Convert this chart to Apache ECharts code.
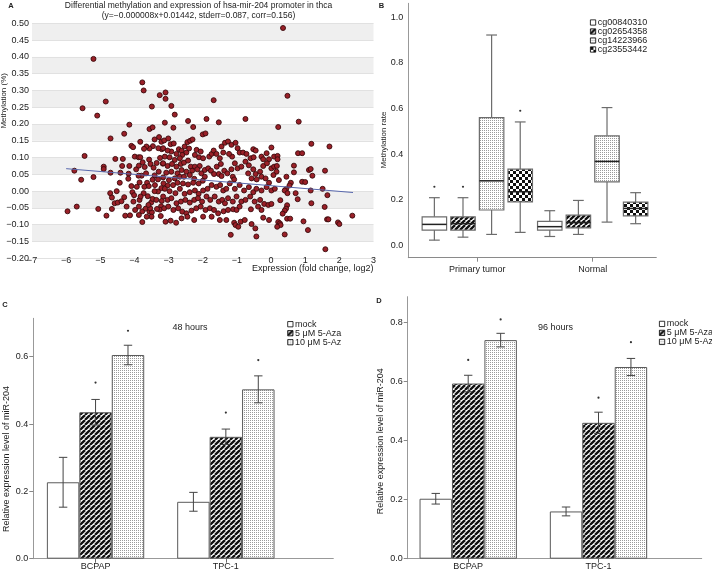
<!DOCTYPE html>
<html>
<head>
<meta charset="utf-8">
<script src="https://cdn.jsdelivr.net/npm/echarts@6/dist/echarts.min.js"></script>
<style>
html, body { margin: 0; padding: 0; background: #fff; }
#main { width: 712px; height: 574px; }
</style>
</head>
<body>
<div id="main"></div>
<script>
// ---- panel A : methylation vs expression ----
var scatterPoints = [
  [-5.20,0.394],[-3.77,0.324],[-3.73,0.300],[-5.52,0.247],[-4.84,0.267],[-5.09,0.225],[-3.26,0.286],[-3.49,0.252],
  [-4.15,0.198],[-4.70,0.157],[-4.30,0.171],[-5.46,0.105],[-5.76,0.061],[-5.56,0.034],[-5.96,-0.060],[-5.69,-0.046],
  [-5.20,0.042],[-5.06,-0.053],[-4.82,-0.073],[-4.90,0.073],[-4.90,0.066],[-4.70,0.055],[-4.56,0.096],[-4.41,0.055],
  [-4.43,0.025],[-4.71,-0.006],[-4.66,-0.019],[-4.52,0.000],[-4.58,-0.036],[-4.49,-0.034],[-4.38,-0.030],[-4.66,-0.053],
  [-4.34,0.096],[-4.36,0.075],[-4.15,0.075],[-4.17,0.052],[-4.09,0.135],[-4.04,0.131],[-3.99,0.103],[-3.88,0.101],
  [-4.30,-0.018],[-4.23,-0.046],[-4.27,-0.073],[-4.13,-0.072],[-4.06,-0.003],[-4.01,-0.012],[-3.93,0.013],[-3.85,0.026],
  [-3.79,0.046],[-3.88,0.046],[-3.95,0.065],[-3.87,0.076],[-3.76,0.086],[-3.70,0.072],[-3.66,0.053],[-3.57,0.094],
  [-3.53,0.081],[-3.44,0.070],[-3.41,0.047],[-3.47,0.034],[-3.63,0.025],[-3.58,0.015],[-3.40,0.018],[-3.31,0.035],
  [-3.29,0.058],[-3.35,0.084],[-3.25,0.099],[-3.17,0.082],[-3.20,0.125],[-3.30,0.128],[-3.46,0.134],[-3.56,0.127],
  [-3.65,0.133],[-3.83,0.147],[-3.72,0.126],[-3.83,0.101],[-4.03,-0.031],[-3.85,-0.026],[-3.87,-0.046],[-3.98,-0.056],
  [-3.77,-0.060],[-3.67,-0.052],[-3.51,-0.034],[-3.61,-0.015],[-3.73,-0.006],[-3.82,-0.016],[-3.56,-0.061],[-3.49,-0.063],
  [-3.54,-0.051],[-3.59,-0.041],[-3.47,-0.023],[-3.36,-0.026],[-3.22,-0.045],[-3.26,-0.055],[-3.34,-0.053],[-3.20,-0.029],
  [-3.21,0.009],[-3.31,-0.001],[-3.41,0.000],[-3.77,-0.092],[-3.56,0.185],[-3.47,0.190],[-3.28,0.161],[-3.41,0.154],
  [-3.21,0.147],[-3.50,-0.076],[-3.64,-0.076],[-3.23,-0.074],[-3.87,-0.071],[-3.71,0.013],[-4.09,0.015],[-4.18,0.037],
  [-3.09,0.294],[-3.09,0.275],[-2.92,0.254],[-2.82,0.228],[-1.68,0.271],[-0.75,0.215],[-1.89,0.215],[-1.53,0.205],
  [-2.43,0.209],[-2.28,0.191],[-2.86,0.189],[-3.11,0.204],[-2.00,0.169],[-1.92,0.172],
  [-3.13,0.151],[-3.01,0.157],[-3.16,0.128],[-2.94,0.140],[-2.85,0.142],[-2.70,0.125],[-2.62,0.120],[-2.53,0.133],
  [-2.45,0.146],[-2.37,0.150],[-2.30,0.154],[-2.40,0.127],[-2.48,0.115],[-2.60,0.108],[-2.77,0.111],[-2.92,0.118],
  [-3.03,0.121],[-3.11,0.103],[-2.97,0.101],[-2.82,0.093],[-2.67,0.098],[-2.18,0.123],[-2.06,0.118],[-2.11,0.101],
  [-2.23,0.108],[-1.99,0.098],[-1.81,0.103],[-1.74,0.111],[-1.68,0.121],[-1.60,0.111],[-1.45,0.133],[-1.35,0.144],
  [-1.26,0.148],[-1.16,0.138],[-1.04,0.144],[-0.98,0.128],[-0.92,0.115],[-0.82,0.115],[-0.72,0.111],[-1.14,0.103],
  [-1.23,0.111],[-1.40,0.115],[-1.50,0.098],[-0.52,0.125],[-0.45,0.121],[-0.13,0.113],[0.01,0.130],[0.09,0.103],
  [-0.28,0.103],[-0.60,0.098],[-0.51,0.101],[-0.23,0.095],[-0.06,0.095],
  [-3.16,0.083],[-3.03,0.075],[-2.90,0.081],[-2.77,0.073],[-2.64,0.081],[-2.55,0.085],[-2.43,0.091],[-2.35,0.073],
  [-2.23,0.073],[-2.09,0.075],[-2.16,0.065],[-2.31,0.061],[-2.48,0.058],[-2.62,0.063],[-2.74,0.053],[-2.92,0.058],
  [-3.07,0.055],[-3.16,0.041],[-2.99,0.033],[-2.82,0.038],[-2.67,0.043],[-2.55,0.043],[-2.38,0.048],[-2.25,0.037],
  [-2.04,0.053],[-1.94,0.063],[-1.84,0.068],[-1.76,0.061],[-1.67,0.051],[-1.59,0.073],[-1.47,0.081],[-1.37,0.061],
  [-1.28,0.053],[-1.16,0.065],[-1.06,0.083],[-0.98,0.068],[-0.87,0.073],[-0.75,0.088],[-0.65,0.077],[-0.52,0.065],
  [-0.45,0.051],[-0.32,0.058],[-0.23,0.075],[-0.12,0.083],[0.01,0.068],[0.09,0.073],[0.16,0.058],[-0.67,0.053],
  [-0.57,0.038],[-0.42,0.035],[-0.28,0.043],[-0.16,0.038],[-0.06,0.025],[0.07,0.048],[-1.12,0.043],[-1.08,0.035],
  [-1.53,0.051],[-1.45,0.045],[-1.94,0.043],[-2.00,0.031],[-2.12,0.023],[-2.28,0.025],[-2.43,0.020],[-2.58,0.023],
  [-2.74,0.025],[-2.87,0.018],[-3.03,0.017],[-3.15,0.023],
  [-3.11,0.007],[-2.97,0.000],[-2.80,-0.006],[-2.67,0.007],[-2.53,-0.008],[-2.38,-0.003],[-2.23,0.002],[-2.12,-0.008],
  [-1.99,0.002],[-1.86,0.007],[-1.74,0.018],[-1.60,0.013],[-1.49,0.018],[-1.40,0.002],[-1.31,0.007],[-1.21,0.023],
  [-1.06,0.007],[-0.92,0.018],[-0.79,0.002],[-0.65,0.012],[-0.52,-0.003],[-0.43,0.007],[-0.28,0.002],[-0.13,0.012],
  [0.01,0.002],[0.11,0.007],[-3.16,-0.016],[-3.03,-0.026],[-2.92,-0.021],[-2.77,-0.036],[-2.64,-0.031],[-2.51,-0.026],
  [-2.38,-0.034],[-2.25,-0.026],[-2.14,-0.021],[-2.02,-0.031],[-1.89,-0.016],[-1.78,-0.026],[-1.65,-0.016],[-1.53,-0.031],
  [-1.43,-0.026],[-1.35,-0.036],[-1.26,-0.021],[-1.12,-0.031],[-1.01,-0.016],[-0.87,-0.031],[-0.75,-0.026],[-0.61,-0.016],
  [-0.48,-0.031],[-0.32,-0.026],[-0.20,-0.038],[-0.08,-0.041],[0.01,-0.038],[-3.13,-0.051],[-3.01,-0.046],[-2.86,-0.056],
  [-2.72,-0.051],[-2.60,-0.061],[-2.48,-0.066],[-2.33,-0.058],[-2.19,-0.051],[-2.06,-0.046],[-1.92,-0.056],[-1.79,-0.051],
  [-1.67,-0.056],[-1.55,-0.066],[-1.39,-0.060],[-1.26,-0.056],[-1.11,-0.054],[-1.01,-0.056],[-0.92,-0.046],[-0.59,-0.054],
  [-0.38,-0.046],[-0.28,-0.056],
  [-3.09,-0.091],[-2.94,-0.088],[-2.78,-0.094],[-2.62,-0.081],[-2.45,-0.076],[-2.25,-0.086],[-1.99,-0.076],[-1.74,-0.076],
  [-1.50,-0.086],[-1.31,-0.086],[-1.08,-0.094],[-1.04,-0.101],[-0.96,-0.106],[-0.89,-0.091],[-0.77,-0.086],[-0.57,-0.098],
  [-0.46,-0.111],[-0.23,-0.079],[-0.06,-0.086],[-1.18,-0.130],[-0.43,-0.135],
  [0.35,0.486],[0.48,0.284],[0.81,0.207],[0.21,0.191],[1.18,0.141],[1.71,0.133],[0.19,0.105],[0.23,0.033],
  [0.79,0.113],[0.91,0.113],[0.67,0.076],[0.67,0.056],[0.45,0.043],[1.11,0.063],[1.16,0.066],[1.21,0.046],
  [1.58,0.061],[0.91,0.028],[1.00,0.027],[0.58,0.025],[0.54,0.017],[0.44,0.006],[0.40,0.002],[0.48,-0.006],
  [1.16,0.002],[1.51,0.007],[1.65,-0.012],[0.72,-0.006],[0.78,-0.024],[0.27,-0.027],[0.47,-0.042],[0.44,-0.052],
  [0.40,-0.058],[1.18,-0.036],[1.57,-0.047],[0.34,-0.067],[0.47,-0.082],[0.56,-0.082],[1.64,-0.084],[1.68,-0.084],
  [0.95,-0.090],[0.21,-0.092],[0.26,-0.096],[0.28,-0.101],[0.18,-0.106],[1.96,-0.093],[2.00,-0.098],[2.38,-0.073],
  [1.08,-0.116],[0.40,-0.129],[1.59,-0.173],[0.19,0.095],[0.17,0.075]
];
var regLineX = [-6.0, 2.4];
var regLineY = [0.067, -0.004];

// ---- panel B : boxplots, [min, Q1, median, Q3, max] ----
var boxGroups = ['Primary tumor', 'Normal'];
var probes = ['cg00840310', 'cg02654358', 'cg14223966', 'cg23553442'];
var boxTumor = [
  [0.023, 0.067, 0.092, 0.125, 0.209],
  [0.036, 0.067, 0.095, 0.125, 0.209],
  [0.048, 0.155, 0.283, 0.560, 0.922],
  [0.057, 0.191, 0.235, 0.334, 0.541]
];
var boxNormal = [
  [0.039, 0.067, 0.082, 0.105, 0.152],
  [0.048, 0.077, 0.100, 0.133, 0.197],
  [0.102, 0.278, 0.368, 0.480, 0.604],
  [0.095, 0.129, 0.162, 0.190, 0.231]
];
var boxOutliers = [[0, 0, 0.257], [0, 1, 0.257], [0, 3, 0.590]];

// ---- panels C / D : miR-204 expression ----
var cellLines = ['BCPAP', 'TPC-1'];
var treatments = ['mock', '5 μM 5-Aza', '10 μM 5-Az'];
var mean48 = [[0.227, 0.169], [0.435, 0.362], [0.605, 0.503]];
var err48 = [[0.074, 0.028], [0.038, 0.023], [0.029, 0.040]];
var stars48 = [[0, 1, 0.523], [0, 2, 0.677], [1, 1, 0.434], [1, 2, 0.590]];
var mean96 = [[0.203, 0.160], [0.593, 0.460], [0.740, 0.649]];
var err96 = [[0.018, 0.015], [0.028, 0.036], [0.023, 0.029]];
var stars96 = [[0, 1, 0.673], [0, 2, 0.810], [1, 1, 0.545], [1, 2, 0.733]];

var FONT = 'Liberation Sans, Arial, sans-serif';
var TXT = '#222';
var BAR_FRAC = 0.249;

function makePattern(kind) {
    var c = document.createElement('canvas'), ctx;
    if (kind === 'hatch') {
        c.width = c.height = 5;
        ctx = c.getContext('2d');
        ctx.fillStyle = '#fff'; ctx.fillRect(0, 0, 5, 5);
        ctx.strokeStyle = '#111'; ctx.lineWidth = 2.3;
        [-5, 0, 5].forEach(function (o) {
            ctx.beginPath(); ctx.moveTo(o, 5); ctx.lineTo(o + 5, 0); ctx.stroke();
        });
    } else if (kind === 'dots') {
        c.width = c.height = 2;
        ctx = c.getContext('2d');
        ctx.fillStyle = '#fff'; ctx.fillRect(0, 0, 2, 2);
        ctx.fillStyle = '#9a9a9a'; ctx.fillRect(0, 0, 1, 1);
    } else if (kind === 'checker') {
        c.width = c.height = 6;
        ctx = c.getContext('2d');
        ctx.fillStyle = '#fff'; ctx.fillRect(0, 0, 6, 6);
        ctx.fillStyle = '#111'; ctx.fillRect(0, 0, 3, 3); ctx.fillRect(3, 3, 3, 3);
    } else {
        return '#ffffff';
    }
    return { image: c, repeat: 'repeat' };
}
var fills = [makePattern('plain'), makePattern('hatch'), makePattern('dots'), makePattern('checker')];
var barFills = [fills[0], fills[1], fills[2]];

function minus(s) { return String(s).replace('-', '\u2212'); }

function boxRenderer(k) {
    return function (params, api) {
        var cat = api.value(0);
        var band = api.size([1, 0])[0];
        var w = band * 0.212;
        var cx = api.coord([cat, 0])[0] + (k - 1.5) * band * 0.248;
        var y = function (i) { return api.coord([cat, api.value(i)])[1]; };
        var yMin = y(1), yQ1 = y(2), yMed = y(3), yQ3 = y(4), yMax = y(5);
        var cap = w * 0.22;
        var ls = { stroke: '#6c6c6c', lineWidth: 1.2 };
        return {
            type: 'group',
            children: [
                { type: 'line', shape: { x1: cx, y1: yMax, x2: cx, y2: yQ3 }, style: ls },
                { type: 'line', shape: { x1: cx, y1: yQ1, x2: cx, y2: yMin }, style: ls },
                { type: 'line', shape: { x1: cx - cap, y1: yMax, x2: cx + cap, y2: yMax }, style: ls },
                { type: 'line', shape: { x1: cx - cap, y1: yMin, x2: cx + cap, y2: yMin }, style: ls },
                { type: 'rect', shape: { x: cx - w / 2, y: yQ3, width: w, height: yQ1 - yQ3 },
                  style: { fill: fills[k], stroke: '#6c6c6c', lineWidth: 1.2 } },
                { type: 'line', shape: { x1: cx - w / 2, y1: yMed, x2: cx + w / 2, y2: yMed },
                  style: { stroke: '#222', lineWidth: 1.5 } }
            ]
        };
    };
}

function outlierRenderer(params, api) {
    var cat = api.value(0), k = api.value(1);
    var band = api.size([1, 0])[0];
    var p = api.coord([cat, api.value(2)]);
    return { type: 'circle', shape: { cx: p[0] + (k - 1.5) * band * 0.248, cy: p[1], r: 1.1 }, style: { fill: '#333' } };
}

function barX(api, cat, k) {
    var band = api.size([1, 0])[0];
    return api.coord([cat, 0])[0] + (k - 1) * band * BAR_FRAC;
}

function errRenderer(params, api) {
    var cat = api.value(0), k = api.value(1);
    var x = barX(api, cat, k);
    var yl = api.coord([cat, api.value(2)])[1], yh = api.coord([cat, api.value(3)])[1];
    var st = { stroke: '#444', lineWidth: 1 };
    return {
        type: 'group',
        children: [
            { type: 'line', shape: { x1: x, y1: yl, x2: x, y2: yh }, style: st },
            { type: 'line', shape: { x1: x - 4.2, y1: yl, x2: x + 4.2, y2: yl }, style: st },
            { type: 'line', shape: { x1: x - 4.2, y1: yh, x2: x + 4.2, y2: yh }, style: st }
        ]
    };
}

function starRenderer(params, api) {
    var cat = api.value(0), k = api.value(1);
    var y = api.coord([cat, api.value(2)])[1];
    return { type: 'circle', shape: { cx: barX(api, cat, k), cy: y, r: 1.1 }, style: { fill: '#333' } };
}

function errData(mean, err) {
    var out = [];
    mean.forEach(function (row, k) {
        row.forEach(function (m, c) { out.push([c, k, m - err[k][c], m + err[k][c]]); });
    });
    return out;
}

var labelStyle = { fontSize: 9, color: TXT, fontFamily: FONT };

function frameX(gi, color) {
    return {
        type: 'value', gridIndex: gi, min: 0, max: 1,
        axisLine: { show: true, onZero: false, lineStyle: { color: color, width: 1 } },
        axisTick: { show: false }, axisLabel: { show: false }, splitLine: { show: false }
    };
}
function dataX(gi, cats, tickColor, margin) {
    return {
        type: 'category', gridIndex: gi, data: cats,
        axisLine: { show: false, onZero: false },
        axisTick: { show: true, alignWithLabel: true, length: 4, lineStyle: { color: tickColor } },
        axisLabel: Object.assign({ margin: margin }, labelStyle),
        splitLine: { show: false }
    };
}
function hiddenY(gi, mn, mx) {
    return { type: 'value', gridIndex: gi, min: mn, max: mx, show: false, splitLine: { show: false } };
}
function frameY(gi, mn, mx, ticks, name, gap, pad, nameSize, withTicks) {
    return {
        type: 'value', gridIndex: gi, min: mn, max: mx,
        axisLine: { show: true, onZero: false, lineStyle: { color: '#999', width: 1 } },
        axisTick: { show: withTicks, length: 4, customValues: ticks, lineStyle: { color: '#888' } },
        axisLabel: Object.assign({ customValues: ticks, margin: 5,
            formatter: function (v) { return v.toFixed(1); } }, labelStyle),
        splitLine: { show: false },
        name: name, nameLocation: 'middle', nameGap: gap, nameMoveOverlap: false,
        nameTextStyle: { fontSize: nameSize, color: TXT, fontFamily: FONT, padding: pad }
    };
}

function legendAt(left, top, names, lh) {
    return {
        data: names, left: left, top: top, orient: 'vertical', padding: 0,
        itemGap: 0, itemWidth: 5.3, itemHeight: 5.3, icon: 'rect', selectedMode: false,
        itemStyle: { borderColor: '#000', borderWidth: 0.8 },
        textStyle: { fontSize: 9, lineHeight: lh, color: TXT, fontFamily: FONT, padding: [0, 0, 0, -3] }
    };
}

function labelTitle(text, cx, top, size, bold) {
    return {
        text: text, left: cx, top: top, textAlign: 'center', padding: 0,
        textStyle: { fontSize: size, fontWeight: bold ? 'bold' : 'normal', color: TXT, fontFamily: FONT, lineHeight: 10 }
    };
}

var series = [
    {
        type: 'scatter', xAxisIndex: 0, yAxisIndex: 0, data: scatterPoints,
        symbolSize: 5,
        itemStyle: { color: '#9a2028', borderColor: '#3a0a0c', borderWidth: 0.9, opacity: 1 }
    },
    {
        type: 'line', xAxisIndex: 0, yAxisIndex: 0,
        data: regLineX.map(function (x, i) { return [x, regLineY[i]]; }),
        symbol: 'none', lineStyle: { color: '#5868ad', width: 1 }
    }
];

probes.forEach(function (p, k) {
    series.push({
        type: 'custom', name: p, xAxisIndex: 2, yAxisIndex: 2,
        data: [[0].concat(boxTumor[k]), [1].concat(boxNormal[k])],
        encode: { x: 0, y: [1, 2, 3, 4, 5] },
        itemStyle: { color: fills[k], borderColor: '#000', borderWidth: 0.8 },
        renderItem: boxRenderer(k), clip: false
    });
});
series.push({
    type: 'custom', xAxisIndex: 2, yAxisIndex: 2, data: boxOutliers,
    encode: { x: 0, y: 2 }, renderItem: outlierRenderer, clip: false
});

[[mean48, err48, stars48, 4], [mean96, err96, stars96, 6]].forEach(function (cfg) {
    var mean = cfg[0], err = cfg[1], stars = cfg[2], ax = cfg[3];
    treatments.forEach(function (t, k) {
        series.push({
            type: 'bar', name: t, xAxisIndex: ax, yAxisIndex: ax, data: mean[k],
            barWidth: (BAR_FRAC * 100) + '%', barGap: '0%',
            itemStyle: { color: barFills[k], borderColor: '#5a5a5a', borderWidth: 1 }
        });
    });
    series.push({
        type: 'custom', xAxisIndex: ax, yAxisIndex: ax, data: errData(mean, err),
        encode: { x: 0, y: 3 }, renderItem: errRenderer, clip: false, z: 5
    });
    series.push({
        type: 'custom', xAxisIndex: ax, yAxisIndex: ax, data: stars,
        encode: { x: 0, y: 2 }, renderItem: starRenderer, clip: false, z: 5
    });
});

var option = {
    animation: false,
    backgroundColor: '#fff',
    textStyle: { fontFamily: FONT },
    title: [
        labelTitle('Differential methylation and expression of hsa-mir-204 promoter in thca\n(y=\u22120.000008x+0.01442, stderr=0.087, corr=0.156)', 198.5, 1, 8.5, false),
        labelTitle('48 hours', 190, 322.5, 9, false),
        labelTitle('96 hours', 555.5, 322.5, 9, false),
        labelTitle('A', 11, 1, 7.5, true),
        labelTitle('B', 381.5, 1.3, 7.5, true),
        labelTitle('C', 5, 300, 7.5, true),
        labelTitle('D', 379, 296, 7.5, true)
    ],
    legend: [
        legendAt(590, 18, probes, 7.5),
        legendAt(287.3, 319.7, treatments, 7.3),
        legendAt(659, 319.4, treatments, 5.8)
    ],
    grid: [
        { left: 32, top: 23.3, width: 341.5, height: 235 },
        { left: 408.3, top: 3.3, width: 248, height: 254.4 },
        { left: 419.6, top: 3.3, width: 230.8, height: 254.4 },
        { left: 33.3, top: 318.3, width: 300, height: 240.4 },
        { left: 30.4, top: 318.3, width: 260.6, height: 240.4 },
        { left: 407.7, top: 296.7, width: 294, height: 262 },
        { left: 403.05, top: 296.7, width: 260.6, height: 262 }
    ].map(function (g) { g.outerBoundsMode = 'none'; return g; }),
    xAxis: [
        {
            type: 'value', gridIndex: 0, min: -7, max: 3, interval: 1,
            axisLine: { show: false, onZero: false }, axisTick: { show: false }, splitLine: { show: false },
            axisLabel: Object.assign({ margin: -2, formatter: function (v) { return minus(v); } }, labelStyle),
            name: 'Expression (fold change, log2)', nameLocation: 'end', nameGap: 0, nameMoveOverlap: false,
            nameTextStyle: { fontSize: 9, color: TXT, fontFamily: FONT, align: 'right', verticalAlign: 'top', padding: [6, 0, 0, 0] }
        },
        frameX(1, '#8a8a8a'),
        dataX(2, boxGroups, '#8a8a8a', 7),
        frameX(3, '#999'),
        dataX(4, cellLines, '#666', 3),
        frameX(5, '#999'),
        dataX(6, cellLines, '#666', 3)
    ],
    yAxis: [
        {
            type: 'value', gridIndex: 0, min: -0.2, max: 0.5, interval: 0.05,
            axisLine: { show: false, onZero: false }, axisTick: { show: false },
            axisLabel: Object.assign({ margin: 3, formatter: function (v) { return minus(v.toFixed(2)); } }, labelStyle),
            splitLine: { show: true, lineStyle: { color: '#e1e1e1', width: 1 } },
            splitArea: { show: true, areaStyle: { color: ['#ffffff', '#efefef'] } },
            name: 'Methylation (%)', nameLocation: 'middle', nameGap: 24, nameMoveOverlap: false,
            nameTextStyle: { fontSize: 8, color: TXT, fontFamily: FONT, padding: [0, 0, 0, 80] }
        },
        frameY(1, -0.054, 1.061, [0, 0.2, 0.4, 0.6, 0.8, 1.0], 'Methylation rate', 21, [0, 19, 0, 0], 8, false),
        hiddenY(2, -0.054, 1.061),
        frameY(3, 0, 0.714, [0, 0.2, 0.4, 0.6], 'Relative expression level of miR-204', 22, [0, 41, 0, 0], 9, true),
        hiddenY(4, 0, 0.714),
        frameY(5, 0, 0.887, [0, 0.2, 0.4, 0.6, 0.8], 'Relative expression level of miR-204', 22.5, [0, 27, 0, 0], 9, true),
        hiddenY(6, 0, 0.887)
    ],
    series: series
};

echarts.init(document.getElementById('main')).setOption(option);
</script>
</body>
</html>
